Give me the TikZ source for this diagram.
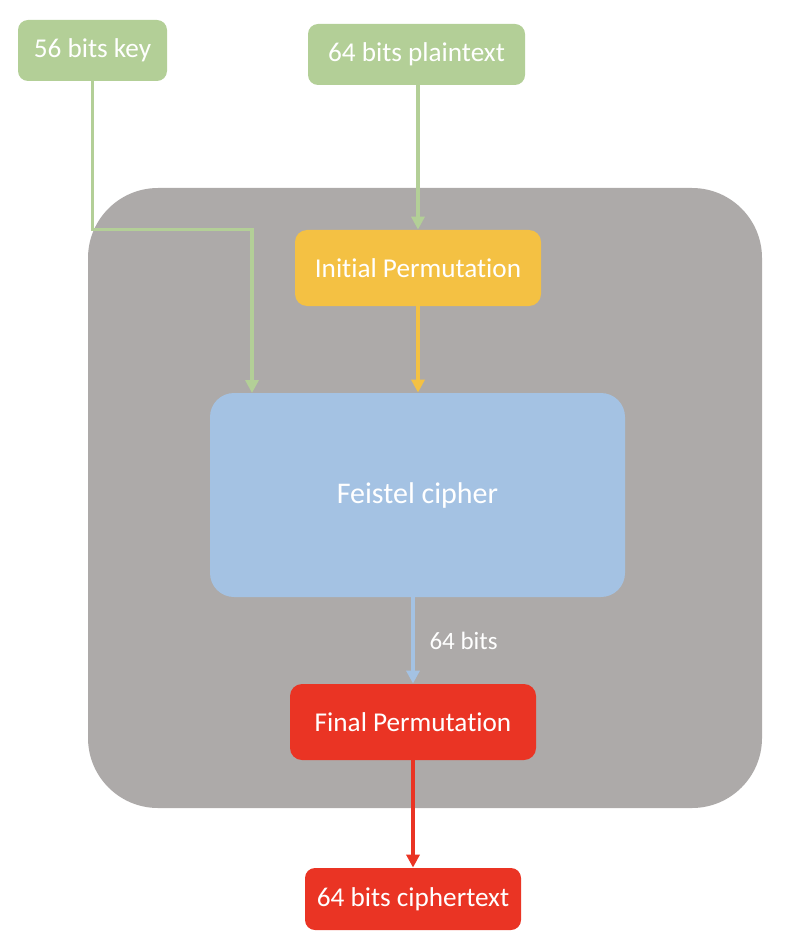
\documentclass[tikz,border=0pt]{standalone}
\usepackage{fontspec}
\setmainfont{Carlito}[Ligatures=NoCommon]
\usetikzlibrary{arrows.meta}
\definecolor{keygreen}{HTML}{B3CF97}
\definecolor{desgray}{HTML}{ADAAA9}
\definecolor{permorange}{HTML}{F4C143}
\definecolor{feistelblue}{HTML}{A4C2E3}
\definecolor{outred}{HTML}{EA3424}

\begin{document}
\begin{tikzpicture}[x=0.5pt, y=-0.5pt, >={Triangle[length=6.5pt,width=6.5pt]},
	box/.style={rounded corners=5pt, inner sep=0pt, text=white, font=\fontsize{13.6}{16}\selectfont},
	link/.style={->, line width=1.9pt}]
	\useasboundingbox (0,0) rectangle (790,952);
	\node [fill=desgray, rounded corners=35pt, minimum width=337pt, minimum height=310pt] (des) at (425,498) {};
	\node [box, fill=keygreen, minimum width=74.5pt, minimum height=30.5pt] (key) at (92.5,50.5) {56 bits key};
	\node [box, fill=keygreen, minimum width=108.5pt, minimum height=30.5pt] (plain) at (416.5,54.5) {64 bits plaintext};
	\node [box, fill=permorange, rounded corners=6pt, minimum width=123pt, minimum height=38pt] (init) at (418,268) {Initial Permutation};
	\node [box, fill=feistelblue, rounded corners=12pt, minimum width=207.5pt, minimum height=102pt, font=\fontsize{15}{18}\selectfont] (feistel) at (417.5,495) {Feistel cipher};
	\node [box, fill=outred, rounded corners=6pt, minimum width=123pt, minimum height=38pt] (final) at (413,722) {Final Permutation};
	\node [box, fill=outred, minimum width=108pt, minimum height=31pt] (cipher) at (413,899) {64 bits ciphertext};
	\coordinate (keyin) at (252,393);
	\draw [link, keygreen] (key.south) |- (init.north -| keyin) -- (keyin);
	\draw [link, keygreen] (plain.south -| init.north) -- (init.north);
	\draw [link, permorange] (init.south) -- (feistel.north -| init.south);
	\draw [link, feistelblue] (feistel.south -| final.north) -- node [right=4pt, text=white, font=\fontsize{12.5}{15}\selectfont] {64 bits} (final.north);
	\draw [link, outred] (final.south) -- (cipher.north);
\end{tikzpicture}
\end{document}
